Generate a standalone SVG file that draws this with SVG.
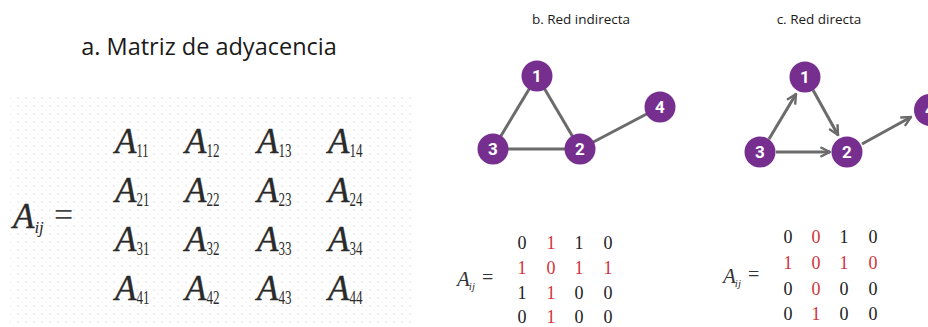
<svg xmlns="http://www.w3.org/2000/svg" width="928" height="327" viewBox="0 0 928 327">
<defs>
<pattern id="dots" x="0" y="0" width="8" height="8" patternUnits="userSpaceOnUse">
<circle cx="2" cy="2" r="0.7" fill="#d6d6d6"/>
<circle cx="6" cy="6" r="0.6" fill="#e2e2e2"/>
</pattern>
<marker id="arr" viewBox="0 0 10 10" refX="9" refY="5" markerWidth="4" markerHeight="4" orient="auto" markerUnits="strokeWidth">
<path d="M1,1 L9,5 L1,9" fill="none" stroke="#6b6b6b" stroke-width="2"/>
</marker>
<style>
.title{font-family:"Open Sans","Noto Sans","Liberation Sans",sans-serif;fill:#1a1a1a}
.A{font-family:"Liberation Serif",serif;font-style:italic;font-size:35px;fill:#2a2a2a;stroke:#2a2a2a;stroke-width:0.4}
.sub{font-family:"Liberation Serif",serif;font-size:19px;fill:#2a2a2a}
.bigsub{font-family:"Liberation Serif",serif;font-style:italic;font-size:17px;fill:#2a2a2a}
.eq{font-family:"Liberation Serif",serif;font-size:34px;fill:#444}
.m{font-family:"Liberation Serif",serif;font-size:18px;fill:#222;text-anchor:middle}
.r{fill:#d0343a}
.nd{fill:#772f8f}
.nl{font-family:"Roboto","Liberation Sans",sans-serif;font-weight:bold;font-size:17px;fill:#fff;text-anchor:middle}
.ed{stroke:#6b6b6b;stroke-width:3;fill:none}
.small{font-family:"Liberation Serif",serif;font-style:italic;font-size:21px;fill:#333}
.smallsub{font-family:"Liberation Serif",serif;font-style:italic;font-size:11px;fill:#333}
.smalleq{font-family:"Liberation Serif",serif;font-size:20px;fill:#333}
</style>
</defs>
<rect width="928" height="327" fill="#fff"/>

<g id="panel-a">
<text class="title" x="209" y="55" font-size="23.5" text-anchor="middle">a. Matriz de adyacencia</text>
<rect x="10" y="96" width="402" height="230" fill="url(#dots)"/>
<text x="13" y="228"><tspan class="A">A</tspan><tspan class="bigsub" dy="5">ij</tspan></text>
<text class="eq" x="54" y="226">=</text>
<g id="matrix-a">
<text x="115" y="153"><tspan class="A">A</tspan><tspan class="sub" dy="4" textLength="12" lengthAdjust="spacingAndGlyphs">11</tspan></text>
<text x="185" y="153"><tspan class="A">A</tspan><tspan class="sub" dy="4" textLength="13" lengthAdjust="spacingAndGlyphs">12</tspan></text>
<text x="257" y="153"><tspan class="A">A</tspan><tspan class="sub" dy="4" textLength="13" lengthAdjust="spacingAndGlyphs">13</tspan></text>
<text x="328" y="153"><tspan class="A">A</tspan><tspan class="sub" dy="4" textLength="13" lengthAdjust="spacingAndGlyphs">14</tspan></text>
<text x="115" y="202"><tspan class="A">A</tspan><tspan class="sub" dy="4" textLength="13" lengthAdjust="spacingAndGlyphs">21</tspan></text>
<text x="185" y="202"><tspan class="A">A</tspan><tspan class="sub" dy="4" textLength="13" lengthAdjust="spacingAndGlyphs">22</tspan></text>
<text x="257" y="202"><tspan class="A">A</tspan><tspan class="sub" dy="4" textLength="13" lengthAdjust="spacingAndGlyphs">23</tspan></text>
<text x="328" y="202"><tspan class="A">A</tspan><tspan class="sub" dy="4" textLength="13" lengthAdjust="spacingAndGlyphs">24</tspan></text>
<text x="115" y="251"><tspan class="A">A</tspan><tspan class="sub" dy="4" textLength="13" lengthAdjust="spacingAndGlyphs">31</tspan></text>
<text x="185" y="251"><tspan class="A">A</tspan><tspan class="sub" dy="4" textLength="13" lengthAdjust="spacingAndGlyphs">32</tspan></text>
<text x="257" y="251"><tspan class="A">A</tspan><tspan class="sub" dy="4" textLength="13" lengthAdjust="spacingAndGlyphs">33</tspan></text>
<text x="328" y="251"><tspan class="A">A</tspan><tspan class="sub" dy="4" textLength="13" lengthAdjust="spacingAndGlyphs">34</tspan></text>
<text x="115" y="300"><tspan class="A">A</tspan><tspan class="sub" dy="4" textLength="13" lengthAdjust="spacingAndGlyphs">41</tspan></text>
<text x="185" y="300"><tspan class="A">A</tspan><tspan class="sub" dy="4" textLength="13" lengthAdjust="spacingAndGlyphs">42</tspan></text>
<text x="257" y="300"><tspan class="A">A</tspan><tspan class="sub" dy="4" textLength="13" lengthAdjust="spacingAndGlyphs">43</tspan></text>
<text x="328" y="300"><tspan class="A">A</tspan><tspan class="sub" dy="4" textLength="13" lengthAdjust="spacingAndGlyphs">44</tspan></text>
</g>
</g>

<g id="panel-b">
<text class="title" x="581" y="24" font-size="13.5" text-anchor="middle">b. Red indirecta</text>
<g id="edges-b">
<line class="ed" x1="537" y1="76" x2="493" y2="149"/>
<line class="ed" x1="537" y1="76" x2="580" y2="149"/>
<line class="ed" x1="493" y1="149" x2="580" y2="149"/>
<line class="ed" x1="580" y1="149" x2="660" y2="107"/>
</g>
<g id="b-node1"><circle class="nd" cx="537" cy="76" r="15.5"/><text class="nl" x="537" y="82">1</text></g>
<g id="b-node2"><circle class="nd" cx="580" cy="149" r="15.5"/><text class="nl" x="580" y="155">2</text></g>
<g id="b-node3"><circle class="nd" cx="493" cy="149" r="15.5"/><text class="nl" x="493" y="155">3</text></g>
<g id="b-node4"><circle class="nd" cx="660" cy="107" r="15.5"/><text class="nl" x="660" y="113">4</text></g>
<text x="457" y="286"><tspan class="small">A</tspan><tspan class="smallsub" dx="-1" dy="4">ij</tspan></text>
<text class="smalleq" x="482" y="284">=</text>
<g id="matrix-b">
<text class="m" x="522" y="249">0</text><text class="m r" x="551" y="249">1</text><text class="m" x="579" y="249">1</text><text class="m" x="608" y="249">0</text>
<text class="m r" x="522" y="274">1</text><text class="m r" x="551" y="274">0</text><text class="m r" x="579" y="274">1</text><text class="m r" x="608" y="274">1</text>
<text class="m" x="522" y="299">1</text><text class="m r" x="551" y="299">1</text><text class="m" x="579" y="299">0</text><text class="m" x="608" y="299">0</text>
<text class="m" x="522" y="323">0</text><text class="m r" x="551" y="323">1</text><text class="m" x="579" y="323">0</text><text class="m" x="608" y="323">0</text>
</g>
</g>

<g id="panel-c">
<text class="title" x="819" y="24" font-size="13.5" text-anchor="middle">c. Red directa</text>
<g id="edges-c">
<line class="ed" x1="769" y1="139" x2="796" y2="94" marker-end="url(#arr)"/>
<line class="ed" x1="813" y1="90" x2="838" y2="135" marker-end="url(#arr)"/>
<line class="ed" x1="776" y1="152" x2="830" y2="152" marker-end="url(#arr)"/>
<line class="ed" x1="862" y1="144" x2="911" y2="117" marker-end="url(#arr)"/>
</g>
<g id="c-node1"><circle class="nd" cx="805" cy="77" r="15.5"/><text class="nl" x="805" y="83">1</text></g>
<g id="c-node2"><circle class="nd" cx="847" cy="152" r="15.5"/><text class="nl" x="847" y="158">2</text></g>
<g id="c-node3"><circle class="nd" cx="760" cy="152" r="15.5"/><text class="nl" x="760" y="158">3</text></g>
<g id="c-node4"><circle class="nd" cx="930" cy="110" r="16"/><text class="nl" x="930" y="116">4</text></g>
<text x="723" y="283"><tspan class="small">A</tspan><tspan class="smallsub" dx="-1" dy="4">ij</tspan></text>
<text class="smalleq" x="748" y="281">=</text>
<g id="matrix-c">
<text class="m" x="788" y="243">0</text><text class="m r" x="816" y="243">0</text><text class="m" x="844" y="243">1</text><text class="m" x="873" y="243">0</text>
<text class="m r" x="788" y="269">1</text><text class="m r" x="816" y="269">0</text><text class="m r" x="844" y="269">1</text><text class="m r" x="873" y="269">0</text>
<text class="m" x="788" y="295">0</text><text class="m r" x="816" y="295">0</text><text class="m" x="844" y="295">0</text><text class="m" x="873" y="295">0</text>
<text class="m" x="788" y="320">0</text><text class="m r" x="816" y="320">1</text><text class="m" x="844" y="320">0</text><text class="m" x="873" y="320">0</text>
</g>
</g>
</svg>
